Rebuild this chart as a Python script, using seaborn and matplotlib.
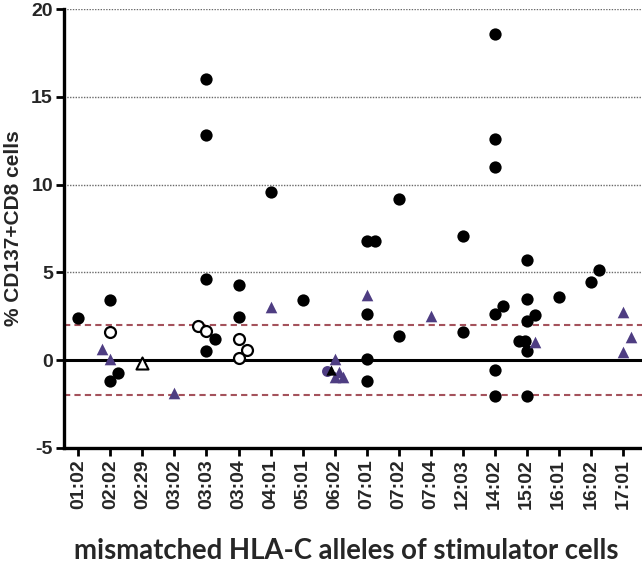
import numpy as np
import pandas as pd
import seaborn as sns
import matplotlib as mpl
import matplotlib.pyplot as plt

# -------------------------
# Configuration
# -------------------------
sns.set(style="white")
mpl.rcParams['font.family'] = ['Liberation Sans', 'DejaVu Sans']
mpl.rcParams['axes.unicode_minus'] = False

# -------------------------
# Data
# -------------------------
# Categories (x axis)
alleles = ['01:02', '02:02', '02:29', '03:02', '03:03', '03:04', '04:01',
           '05:01', '06:02', '07:01', '07:02', '07:04', '12:03', '14:02',
           '15:02', '16:01', '16:02', '17:01']

# One entry per point: allele, value, kind of marker, column slot
point_allele = (['01:02']
                + ['02:02'] * 6
                + ['02:29', '03:02']
                + ['03:03'] * 7
                + ['03:04'] * 5
                + ['04:01'] * 2
                + ['05:01']
                + ['06:02'] * 6
                + ['07:01'] * 6
                + ['07:02'] * 2
                + ['07:04']
                + ['12:03'] * 2
                + ['14:02'] * 7
                + ['15:02'] * 9
                + ['16:01']
                + ['16:02'] * 2
                + ['17:01'] * 3)

point_value = [2.4,
               3.4, 1.6, 0.65, 0.05, -1.2, -0.75,
               -0.15, -1.85,
               16.0, 12.85, 4.65, 0.55, 1.95, 1.65, 1.2,
               4.3, 2.45, 1.2, 0.6, 0.15,
               9.6, 3.05,
               3.4,
               -0.6, -0.55, 0.05, -0.95, -0.7, -0.95,
               6.8, 6.8, 2.65, 0.05, -1.2, 3.7,
               9.2, 1.4,
               2.5,
               7.05, 1.6,
               18.6, 12.6, 11.0, 2.65, 3.1, -0.55, -2.05,
               5.7, 3.5, 2.6, 2.25, 1.1, 1.1, 0.55, -2.05, 1.05,
               3.6,
               4.45, 5.15,
               2.75, 1.3, 0.45]

point_kind = (['filled']
              + ['filled', 'open', 'tri', 'tri', 'filled', 'filled']
              + ['open_tri', 'tri']
              + ['filled'] * 4 + ['open', 'open', 'filled']
              + ['filled', 'filled', 'open', 'open', 'open']
              + ['filled', 'tri']
              + ['filled']
              + ['circ_p', 'tri_k', 'tri', 'tri', 'tri', 'tri']
              + ['filled'] * 5 + ['tri']
              + ['filled', 'filled']
              + ['tri']
              + ['filled', 'filled']
              + ['filled'] * 7
              + ['filled'] * 8 + ['tri']
              + ['filled']
              + ['filled', 'filled']
              + ['tri', 'tri', 'tri'])

point_slot = [0,
              0, 0, -1, 0, 0, 1,
              0, 0,
              0, 0, 0, 0, -1, 0, 1,
              0, 0, 0, 1, 0,
              0, 0,
              0,
              -1, -0.5, 0, 0, 0.5, 1,
              0, 1, 0, 0, 0, 0,
              0, 0,
              0,
              0, 0,
              0, 0, 0, 0, 1, 0, 0,
              0, 0, 1, 0, -1, -0.25, 0, 0, 1,
              0,
              0, 1,
              0, 1, 0]

# -------------------------
# Build table
# -------------------------
df = pd.DataFrame({'allele': point_allele, 'value': point_value,
                   'kind': point_kind, 'slot': point_slot})
df['x'] = df.allele.map({a: i for i, a in enumerate(alleles)}) + df.slot * 0.25

purple = '#4e3d82'
styles = {
    'filled':   dict(marker='o', s=78, color='black', edgecolor='black', linewidth=0),
    'open':     dict(marker='o', s=62, color='white', edgecolor='black', linewidth=1.6),
    'tri':      dict(marker='^', s=70, color=purple, edgecolor=purple, linewidth=0),
    'circ_p':   dict(marker='o', s=62, color=purple, edgecolor=purple, linewidth=0),
    'tri_k':    dict(marker='^', s=55, color='black', edgecolor='black', linewidth=0),
    'open_tri': dict(marker='^', s=75, color='white', edgecolor='black', linewidth=1.5),
}

# -------------------------
# Figure
# -------------------------
f = plt.figure(figsize=(6.42, 5.69), dpi=100)
ax = f.add_axes([64 / 642, 1 - 448 / 569, 1 - 64 / 642, (448 - 9) / 569])

# Reference lines
for y in [5, 10, 15, 20]:
    ax.axhline(y, color='#6a6a6a', linestyle=(0, (1, 1)), linewidth=1.0, zorder=1)
ax.axhline(0, color='black', linewidth=2.2, zorder=2)
for y in [2, -2]:
    ax.axhline(y, color='#a4525c', linestyle=(0, (3, 2)), linewidth=1.5, zorder=2)

# Points
for kind in ['filled', 'open', 'tri', 'circ_p', 'tri_k', 'open_tri']:
    sub = df[df.kind == kind]
    sns.scatterplot(data=sub, x='x', y='value', ax=ax, legend=False,
                    zorder=3, **styles[kind])

# Axes
ax.set_xlim(-0.45, 17.6)
ax.set_ylim(-5, 20)
ax.set_yticks([-5, 0, 5, 10, 15, 20])
ax.set_xticks(range(len(alleles)))
ax.set_xticklabels(alleles, rotation=90, fontweight='bold', fontsize=14)
for lab in ax.get_yticklabels():
    lab.set_fontweight('bold')
    lab.set_fontsize(14)
ax.tick_params(axis='both', direction='out', length=6, width=2,
               color='black', pad=2, bottom=True, left=True)

sns.despine(ax=ax)
for side in ['left', 'bottom']:
    ax.spines[side].set_linewidth(2.4)
    ax.spines[side].set_color('black')

ax.set_ylabel('% CD137+CD8 cells', fontsize=15, fontweight='bold', labelpad=6)
ax.set_xlabel('mismatched HLA-C alleles of stimulator cells',
              fontsize=19.8, fontweight='bold', family=['Lato', 'DejaVu Sans'],
              labelpad=21)
ax.xaxis.label.set_x(0.488)

f.savefig('out.png', dpi=100)
